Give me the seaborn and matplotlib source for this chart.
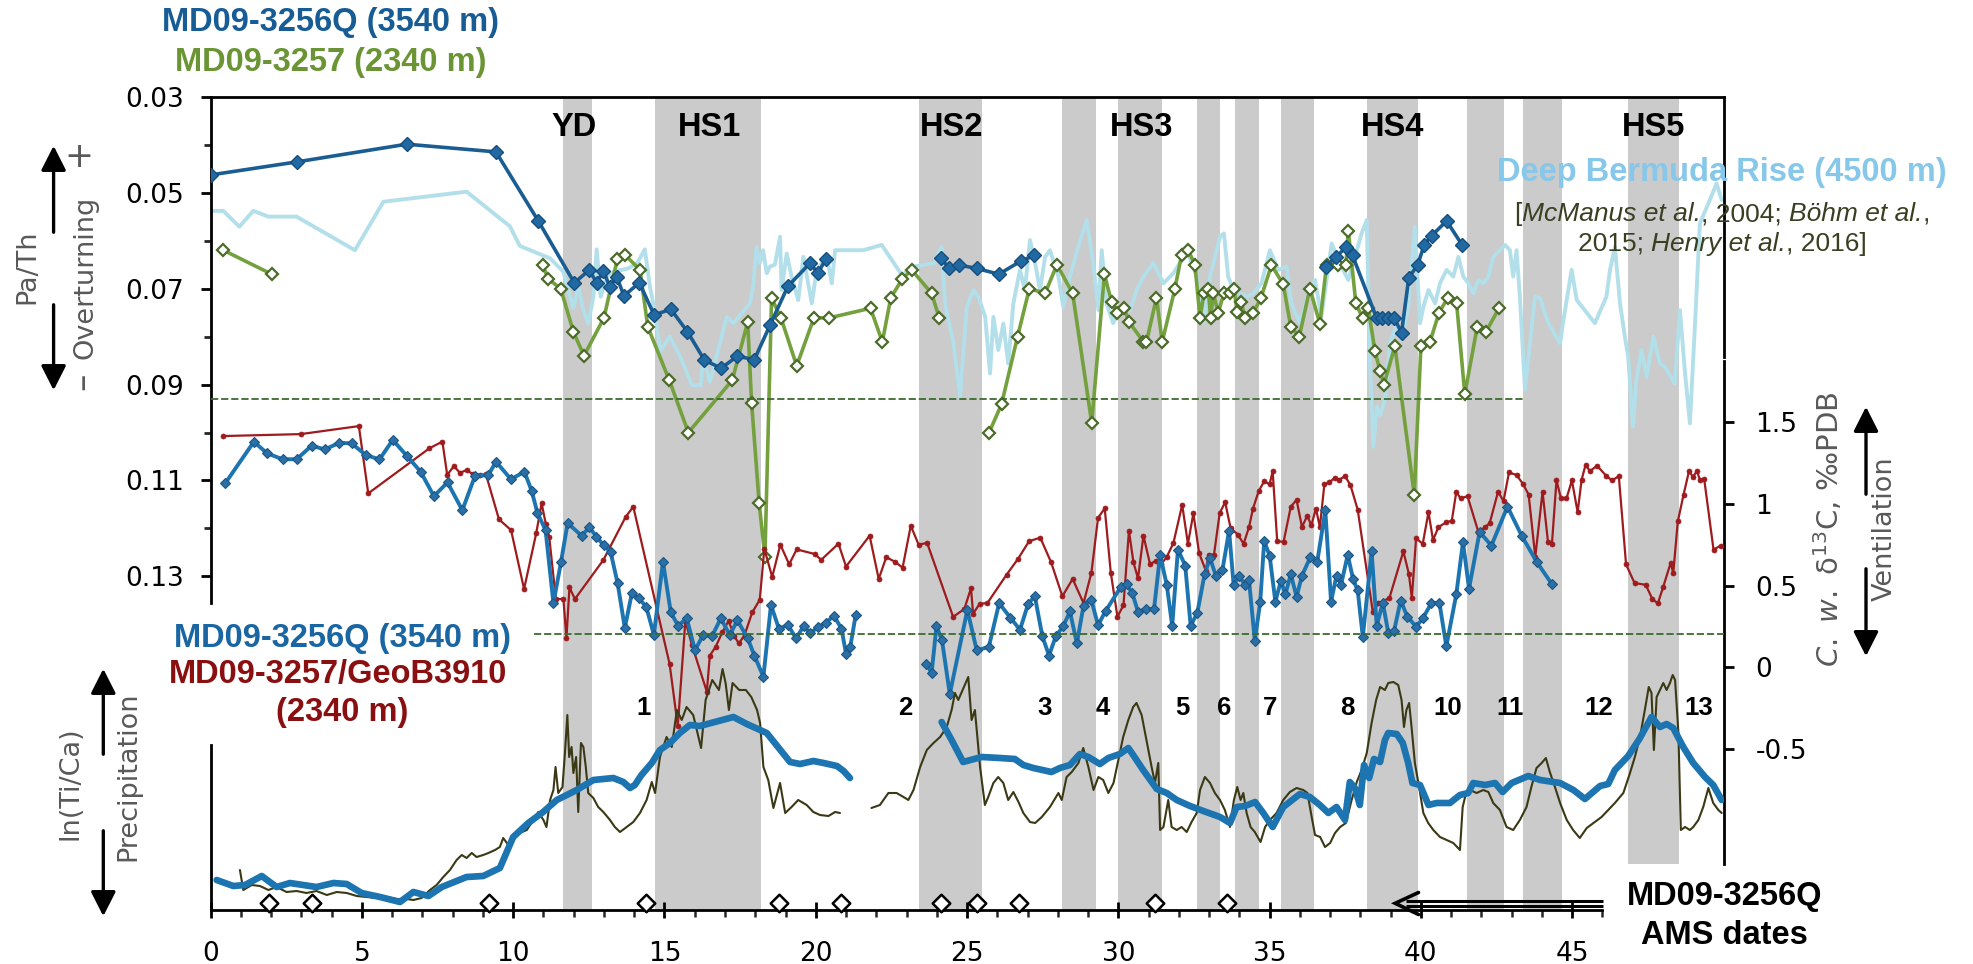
import numpy as np
import pandas as pd
import matplotlib
matplotlib.use("Agg")
import matplotlib.pyplot as plt
import seaborn as sns
from matplotlib.ticker import FixedLocator, FixedFormatter
from matplotlib.offsetbox import TextArea, HPacker, VPacker, AnnotationBbox

sns.set_style("ticks")
plt.rcParams["font.family"] = ["DejaVu Sans"]
plt.rcParams["mathtext.fontset"] = "dejavusans"

NAN = np.nan

# ---------------- data (ages in ka) ----------------
# Pa/Th MD09-3256Q (3540 m)
PA_Q_AGE = [0.01, 2.84, 6.48, 9.43, 10.83, 12.02, 12.52, 12.76, 12.98, 13.20, 13.42, 13.66, 14.17, 14.66, 15.21,
            15.76, 16.32, 16.87, 17.41, 17.97, 18.49, 19.08, 19.81, 20.07, 20.33, NAN,
            24.13, 24.41, 24.74, 25.32, 26.05, 26.77, 27.21, NAN,
            36.86, 37.19, 37.54, 37.74, 38.54, 38.73, 38.92, 39.11, 39.36, 39.60, 39.89, 40.11, 40.35, 40.85, 41.36]
PA_Q_VAL = [0.0463, 0.0436, 0.0399, 0.0415, 0.0559, 0.0688, 0.0661, 0.0689, 0.0663, 0.0697, 0.0675, 0.0715, 0.0688,
            0.0755, 0.0743, 0.0790, 0.0849, 0.0866, 0.0841, 0.0848, 0.0776, 0.0695, 0.0647, 0.0668, 0.0639, NAN,
            0.0636, 0.0658, 0.0651, 0.0658, 0.0670, 0.0643, 0.0631, NAN,
            0.0654, 0.0634, 0.0613, 0.0631, 0.0762, 0.0761, 0.0761, 0.0761, 0.0792, 0.0677, 0.0651, 0.0609, 0.0590,
            0.0559, 0.0609]

# Pa/Th MD09-3257 (2340 m)
PA_G_AGE = [0.42, 2.02, NAN,
            10.97, 11.16, 11.57, 11.99, 12.34, 13.00, 13.44, 13.70, 14.19, 14.45, 15.16, 15.79, 17.24, 17.75, 17.88,
            18.13, 18.32, 18.54, 18.85, 19.37, 19.94, 20.45, 21.81, 22.20, 22.48, 22.86, 23.17, 23.83, 24.08, NAN,
            25.73, 26.14, 26.67, 27.06, 27.58, 27.97, 28.49, 29.12, 29.54, 29.78, 29.97, 30.19, 30.36, 30.83, 30.93,
            31.26, 31.45, 31.87, 32.09, 32.31, 32.53, 32.70, 32.83, 32.97, 33.05, 33.14, 33.30, 33.49, 33.69, 33.82,
            33.93, 34.07, 34.18, 34.46, 34.71, 35.06, 35.45, 35.70, 35.98, 36.33, 36.66, 36.88, 37.27, 37.52, 37.60,
            37.85, 38.07, 38.26, 38.48, 38.65, 38.78, 39.14, 39.78, 40.00, 40.30, 40.60, 40.88, 41.18, 41.45, 41.86,
            42.14, 42.59]
PA_G_VAL = [0.0620, 0.0670, NAN,
            0.0651, 0.0680, 0.0700, 0.0790, 0.0840, 0.0761, 0.0639, 0.0630, 0.0661, 0.0780, 0.0891, 0.1000, 0.0891,
            0.0770, 0.0939, 0.1148, 0.1259, 0.0720, 0.0761, 0.0861, 0.0761, 0.0761, 0.0741, 0.0811, 0.0719, 0.0680,
            0.0661, 0.0710, 0.0761, NAN,
            0.1000, 0.0941, 0.0800, 0.0700, 0.0710, 0.0650, 0.0710, 0.0980, 0.0670, 0.0729, 0.0750, 0.0741, 0.0770,
            0.0811, 0.0811, 0.0719, 0.0811, 0.0700, 0.0630, 0.0620, 0.0650, 0.0761, 0.0710, 0.0700, 0.0761, 0.0710,
            0.0750, 0.0710, 0.0710, 0.0701, 0.0748, 0.0729, 0.0762, 0.0750, 0.0720, 0.0651, 0.0691, 0.0780, 0.0800,
            0.0700, 0.0773, 0.0651, 0.0651, 0.0651, 0.0579, 0.0731, 0.0761, 0.0741, 0.0830, 0.0872, 0.0900, 0.0820,
            0.1130, 0.0820, 0.0811, 0.0750, 0.0720, 0.0731, 0.0920, 0.0780, 0.0791, 0.0740]

# Pa/Th Deep Bermuda Rise (4500 m)
BR_AGE = [0.01, 0.42, 0.95, 1.41, 1.91, 2.84, 4.77, 5.71, 8.46, 9.89, 10.22, 11.22, 11.66, 11.82, 11.99, 12.15,
          12.32, 12.48, 12.65, 12.76, 12.89, 13.09, 13.31, 13.80, 14.10, 14.35, 14.52, 14.65, 14.87, 15.17, 15.47,
          15.91, 16.20, 16.28, 16.50, 16.83, 17.06, 17.28, 17.82, 17.93, 18.04, 18.15, 18.26, 18.38, 18.49, 18.65,
          18.82, 18.87, 19.04, 19.20, 19.42, 19.59, 19.87, 20.03, 20.37, 20.53, 20.64, 21.57, 22.18, 22.85, 23.23,
          23.90, 24.16, 24.27, 24.55, 24.77, 24.99, 25.21, 25.37, 25.60, 25.76, 25.87, 26.03, 26.20, 26.36, 26.53,
          26.75, 26.91, 27.08, 27.25, 27.41, 27.58, 27.74, 28.02, 28.18, 28.40, 28.68, 28.95, 29.17, 29.34, 29.45,
          29.61, 29.83, 30.05, 30.39, 30.61, 30.83, 31.16, 31.49, 31.82, 32.09, 32.31, 32.59, 32.81, 33.03, 33.36,
          33.49, 33.63, 33.80, 34.02, 34.24, 34.46, 34.73, 35.01, 35.28, 35.56, 35.72, 36.00, 36.33, 36.50, 36.71,
          37.05, 37.32, 37.60, 37.82, 38.04, 38.21, 38.32, 38.43, 38.54, 38.65, 38.81, 38.98, 39.20, 39.36, 39.58,
          39.80, 39.97, 40.08, 40.25, 40.47, 40.63, 40.85, 41.07, 41.24, 41.40, 41.57, 41.73, 41.90, 42.06, 42.23,
          42.39, 42.78, 42.94, 43.05, 43.16, 43.27, 43.44, 43.77, 43.94, 44.21, 44.60, 44.71, 44.98, 45.15, 45.75,
          46.13, 46.25, 46.41, 46.58, 46.74, 46.85, 47.01, 47.12, 47.29, 47.46, 47.68, 47.90, 48.06, 48.39, 48.56,
          48.73, 48.89, 49.06, 49.22, 49.55, 49.77, 49.94]
BR_VAL = [0.0538, 0.0538, 0.0571, 0.0538, 0.0550, 0.0550, 0.0620, 0.0519, 0.0498, 0.0570, 0.0611, 0.0637, 0.0665,
          0.0703, 0.0741, 0.0696, 0.0745, 0.0773, 0.0717, 0.0618, 0.0717, 0.0675, 0.0665, 0.0658, 0.0647, 0.0618,
          0.0696, 0.0738, 0.0830, 0.0800, 0.0835, 0.0901, 0.0901, 0.0842, 0.0895, 0.0814, 0.0759, 0.0772, 0.0731,
          0.0696, 0.0613, 0.0647, 0.0620, 0.0668, 0.0654, 0.0650, 0.0592, 0.0703, 0.0627, 0.0675, 0.0724, 0.0634,
          0.0731, 0.0661, 0.0634, 0.0689, 0.0620, 0.0620, 0.0609, 0.0672, 0.0654, 0.0647, 0.0613, 0.0731, 0.0814,
          0.0925, 0.0738, 0.0703, 0.0717, 0.0759, 0.0877, 0.0759, 0.0828, 0.0773, 0.0856, 0.0731, 0.0661, 0.0703,
          0.0599, 0.0647, 0.0703, 0.0634, 0.0620, 0.0675, 0.0738, 0.0675, 0.0613, 0.0557, 0.0647, 0.0745, 0.0620,
          0.0731, 0.0772, 0.0738, 0.0745, 0.0703, 0.0675, 0.0647, 0.0689, 0.0668, 0.0641, 0.0627, 0.0675, 0.0772,
          0.0675, 0.0592, 0.0585, 0.0675, 0.0703, 0.0710, 0.0717, 0.0710, 0.0689, 0.0620, 0.0661, 0.0654, 0.0731,
          0.0772, 0.0703, 0.0682, 0.0759, 0.0606, 0.0647, 0.0682, 0.0634, 0.0585, 0.0557, 0.0863, 0.1030, 0.0946,
          0.0964, 0.0932, 0.0814, 0.0772, 0.0807, 0.0738, 0.0571, 0.0772, 0.0738, 0.0703, 0.0731, 0.0689, 0.0661,
          0.0675, 0.0634, 0.0675, 0.0689, 0.0710, 0.0682, 0.0689, 0.0675, 0.0634, 0.0609, 0.0620, 0.0675, 0.0620,
          0.0717, 0.0911, 0.0717, 0.0720, 0.0772, 0.0814, 0.0766, 0.0661, 0.0724, 0.0772, 0.0717, 0.0661, 0.0613,
          0.0731, 0.0800, 0.0842, 0.0988, 0.0891, 0.0828, 0.0884, 0.0800, 0.0856, 0.0863, 0.0898, 0.0745, 0.0877,
          0.0981, 0.0772, 0.0564, 0.0515, 0.0481, 0.0515]

# C. wuellerstorfi d13C MD09-3256Q (3540 m)
D13_Q_AGE = [0.48, 1.43, 1.87, 2.38, 2.84, 3.34, 3.78, 4.25, 4.66, 5.13, 5.58, 6.02, 6.48, 6.94, 7.38, 7.83, 8.32,
             8.74, 9.18, 9.43, 9.93, 10.37, 10.61, 10.80, 11.07, 11.33, 11.58, 11.80, 12.26, 12.52, 12.75, 12.99,
             13.22, 13.45, 13.69, 13.92, 14.15, 14.40, 14.65, 14.95, 15.21, 15.46, 15.73, 16.01, 16.28, 16.57, 16.86,
             17.16, 17.41, 17.75, 17.97, 18.27, 18.52, 18.78, 19.08, 19.35, 19.60, 19.82, 20.07, 20.33, 20.60, 20.85,
             21.00, 21.14, 21.32, NAN,
             23.65, 23.83, 23.99, 24.17, 24.43, 25.01, 25.32, 25.72, 26.06, 26.43, 26.75, 27.02, 27.24, 27.49, 27.71,
             27.93, 28.18, 28.40, 28.63, 28.85, 29.11, 29.33, 29.58, 30.09, 30.27, 30.46, 30.65, 30.90, 31.18, 31.38,
             31.60, 31.78, 31.97, 32.21, 32.39, 32.61, 32.85, 33.03, 33.22, 33.44, 33.66, 33.81, 33.99, 34.18, 34.32,
             34.51, 34.69, 34.82, 35.00, 35.19, 35.37, 35.52, 35.70, 35.89, 36.07, 36.35, 36.57, 36.84, 37.03, 37.21,
             37.36, 37.58, 37.76, 37.91, 38.08, 38.37, 38.54, 38.74, 38.92, 39.11, 39.33, 39.55, 39.84, 40.06, 40.34,
             40.61, 40.84, 41.17, 41.39, 41.59, 41.94, 42.33, 42.86, 43.34, 43.84, 44.33]
D13_Q_VAL = [1.126, 1.381, 1.310, 1.274, 1.274, 1.357, 1.334, 1.375, 1.371, 1.300, 1.273, 1.392, 1.296, 1.198,
             1.048, 1.132, 0.962, 1.173, 1.177, 1.259, 1.151, 1.198, 1.081, 0.946, 0.840, 0.393, 0.644, 0.883,
             0.806, 0.857, 0.800, 0.748, 0.706, 0.516, 0.241, 0.452, 0.424, 0.369, 0.199, 0.646, 0.336, 0.252,
             0.304, 0.104, 0.199, 0.189, 0.300, 0.199, 0.287, 0.178, 0.072, -0.058, 0.382, 0.237, 0.258, 0.178,
             0.252, 0.209, 0.246, 0.273, 0.315, 0.237, 0.083, 0.125, 0.321, NAN,
             0.020, -0.033, 0.252, 0.167, -0.164, 0.351, 0.104, 0.125, 0.393, 0.304, 0.230, 0.389, 0.435, 0.189,
             0.072, 0.189, 0.252, 0.342, 0.146, 0.378, 0.410, 0.258, 0.345, 0.494, 0.509, 0.455, 0.340, 0.357,
             0.357, 0.688, 0.505, 0.254, 0.721, 0.623, 0.254, 0.334, 0.569, 0.669, 0.562, 0.596, 0.836, 0.505,
             0.562, 0.505, 0.532, 0.163, 0.402, 0.774, 0.683, 0.402, 0.528, 0.448, 0.569, 0.432, 0.562, 0.676,
             0.642, 0.961, 0.402, 0.562, 0.505, 0.688, 0.539, 0.471, 0.186, 0.710, 0.254, 0.396, 0.213, 0.220,
             0.409, 0.311, 0.249, 0.299, 0.391, 0.396, 0.129, 0.448, 0.767, 0.482, 0.829, 0.745, 0.984, 0.802,
             0.642, 0.509]

# C. wuellerstorfi d13C MD09-3257/GeoB3910 (2340 m)
D13_R_AGE = [0.42, 2.98, 4.90, 5.21, 7.23, 7.66, 7.82, 8.04, 8.24, 8.46, 8.68, 8.90, 9.10, 9.53, 9.93, 10.36, 10.76,
             10.94, 11.08, 11.19, 11.41, 11.66, 11.76, 11.86, 12.04, 12.98, 13.72, 13.97, 15.17, 15.44, 15.69, 15.91,
             16.40, 16.50, 16.69, 16.91, 17.12, 17.31, 17.46, 17.65, 17.90, 18.15, 18.30, 18.56, 18.83, 19.12, 19.37,
             19.96, 20.18, 20.75, 21.00, 21.78, 22.08, 22.33, 22.62, 22.87, 23.14, 23.40, 23.68, 24.54, 24.91, 25.13,
             25.20, 25.42, 25.67, 26.31, 26.68, 27.05, 27.42, 27.78, 28.15, 28.49, 28.85, 29.11, 29.33, 29.55, 29.75,
             29.97, 30.17, 30.35, 30.50, 30.65, 30.83, 31.05, 31.23, 31.41, 31.60, 31.82, 32.11, 32.30, 32.48, 32.67,
             32.89, 32.98, 33.16, 33.35, 33.53, 33.71, 33.95, 34.14, 34.32, 34.45, 34.64, 34.82, 35.00, 35.10, 35.25,
             35.46, 35.70, 35.89, 36.07, 36.24, 36.38, 36.53, 36.66, 36.81, 36.97, 37.16, 37.30, 37.49, 37.67, 37.91,
             38.41, 38.59, 38.96, 39.42, 39.60, 39.70, 39.84, 40.06, 40.25, 40.40, 40.58, 40.84, 41.02, 41.17, 41.31,
             41.54, 41.90, 42.12, 42.27, 42.55, 42.73, 42.91, 43.16, 43.38, 43.56, 43.78, 44.02, 44.20, 44.33, 44.48,
             44.63, 44.81, 44.99, 45.18, 45.31, 45.44, 45.59, 45.82, 46.13, 46.32, 46.54, 46.78, 47.06, 47.43, 47.65,
             47.83, 48.01, 48.25, 48.34, 48.49, 48.68, 48.86, 48.99, 49.12, 49.23, 49.36, 49.67, 49.91]
D13_R_VAL = [1.416, 1.428, 1.477, 1.065, 1.341, 1.382, 1.178, 1.232, 1.191, 1.208, 1.181, 1.177, 1.181, 0.906,
             0.840, 0.479, 0.820, 1.004, 0.877, 0.800, 0.418, 0.418, 0.178, 0.489, 0.418, 0.657, 0.922, 0.983,
             0.020, -0.360, 0.284, 0.135, -0.149, 0.072, 0.125, 0.214, 0.284, 0.189, 0.146, 0.199, 0.336, 0.414,
             0.726, 0.553, 0.751, 0.631, 0.722, 0.694, 0.658, 0.757, 0.617, 0.806, 0.541, 0.674, 0.646, 0.610,
             0.867, 0.751, 0.762, 0.309, 0.357, 0.484, 0.329, 0.389, 0.393, 0.568, 0.663, 0.772, 0.794, 0.642,
             0.435, 0.541, 0.393, 0.579, 0.916, 0.973, 0.580, 0.310, 0.380, 0.836, 0.642, 0.545, 0.806, 0.630,
             0.653, 0.630, 0.676, 0.761, 0.995, 0.756, 0.943, 0.699, 0.592, 0.689, 0.688, 0.945, 1.011, 0.852,
             0.813, 0.756, 0.859, 0.972, 1.080, 1.139, 1.121, 1.201, 0.774, 0.767, 0.984, 1.025, 0.859, 0.927,
             0.870, 0.972, 0.859, 1.121, 1.132, 1.162, 1.148, 1.171, 1.116, 0.966, 0.340, 0.391, 0.425, 0.710,
             0.573, 0.425, 0.790, 0.756, 0.950, 0.779, 0.859, 0.888, 0.897, 1.075, 1.034, 1.048, 0.828, 0.859,
             0.881, 1.075, 1.018, 1.193, 1.178, 1.121, 1.057, 0.676, 1.075, 0.767, 0.756, 1.144, 1.034, 1.034,
             1.144, 0.950, 1.148, 1.239, 1.201, 1.235, 1.171, 1.144, 1.171, 0.630, 0.516, 0.505, 0.418, 0.391,
             0.494, 0.637, 0.578, 0.893, 1.057, 1.201, 1.167, 1.201, 1.144, 1.155, 0.721, 0.745]

# ln(Ti/Ca) GeoB3910 (relative units)
TICA_AGE = [0.97, 1.08, 1.36, 1.63, 1.91, 2.18, 2.51, 2.84, 3.17, 3.50, 3.84, 4.17, 4.50, 4.83, 5.16, 5.49, 5.82,
            6.15, 6.48, 6.70, 6.97, 7.25, 7.47, 7.69, 7.91, 8.13, 8.30, 8.46, 8.63, 8.79, 9.01, 9.18, 9.40, 9.56,
            9.67, 9.84, 10.00, 10.22, 10.45, 10.67, 10.83, 11.00, 11.10, 11.22, 11.33, 11.40, 11.49, 11.63, 11.71,
            11.79, 11.85, 11.93, 11.99, 12.08, 12.15, 12.24, 12.32, 12.40, 12.48, 12.65, 12.81, 12.98, 13.20, 13.36,
            13.53, 13.75, 13.97, 14.19, 14.41, 14.58, 14.69, 14.85, 15.07, 15.24, 15.41, 15.57, 15.73, 15.95, 16.21,
            16.36, 16.58, 16.80, 16.92, 17.02, 17.13, 17.25, 17.47, 17.69, 17.87, 18.06, 18.16, 18.27, 18.43, 18.60,
            18.82, 18.99, 19.20, 19.42, 19.70, 19.92, 20.14, 20.42, 20.64, 20.80, NAN,
            21.84, 22.12, 22.40, 22.67, 22.90, 23.06, 23.23, 23.45, 23.67, 23.89, 24.11, 24.33, 24.49, 24.60, 24.71,
            25.04, 25.15, 25.26, 25.43, 25.59, 25.70, 25.87, 26.03, 26.20, 26.36, 26.53, 26.70, 26.86, 27.08, 27.25,
            27.47, 27.74, 28.02, 28.13, 28.29, 28.46, 28.68, 28.84, 29.01, 29.18, 29.34, 29.50, 29.67, 29.84, 30.00,
            30.16, 30.33, 30.49, 30.60, 30.77, 30.93, 31.10, 31.21, 31.32, 31.38, 31.49, 31.65, 31.76, 31.93, 32.09,
            32.26, 32.42, 32.59, 32.70, 32.86, 33.03, 33.19, 33.36, 33.52, 33.69, 33.82, 33.93, 34.04, 34.13, 34.24,
            34.37, 34.51, 34.70, 34.85, 35.01, 35.23, 35.45, 35.67, 35.89, 36.11, 36.25, 36.39, 36.50, 36.67, 36.83,
            37.00, 37.16, 37.33, 37.52, 37.71, 37.88, 38.04, 38.21, 38.37, 38.52, 38.65, 38.81, 38.92, 39.09, 39.25,
            39.36, 39.44, 39.52, 39.61, 39.69, 39.80, 39.94, 40.08, 40.24, 40.41, 40.63, 40.85, 41.07, 41.29, 41.38,
            41.46, 41.62, 41.84, 42.06, 42.23, 42.39, 42.61, 42.83, 43.05, 43.27, 43.49, 43.65, 43.82, 43.99, 44.13,
            44.26, 44.43, 44.60, 44.82, 45.03, 45.25, 45.48, 45.70, 45.97, 46.19, 46.41, 46.69, 46.91, 47.07, 47.24,
            47.40, 47.53, 47.62, 47.70, 47.79, 47.90, 48.01, 48.12, 48.23, 48.32, 48.40, 48.51, 48.59, 48.73, 48.89,
            49.00, 49.17, 49.33, 49.50, 49.66, 49.83, 49.94]
TICA_VAL = [0.40, 0.20, 0.25, 0.24, 0.20, 0.23, 0.18, 0.19, 0.17, 0.19, 0.15, 0.18, 0.17, 0.14, 0.13, 0.12, 0.13,
            0.11, 0.11, 0.10, 0.12, 0.20, 0.25, 0.33, 0.40, 0.50, 0.55, 0.52, 0.57, 0.53, 0.55, 0.57, 0.60, 0.63,
            0.72, 0.65, 0.70, 0.77, 0.80, 0.90, 0.98, 0.90, 0.83, 1.10, 1.20, 1.43, 1.17, 1.23, 1.57, 1.95, 1.53,
            1.63, 1.37, 1.53, 0.98, 1.67, 1.63, 1.43, 1.17, 1.12, 1.03, 0.98, 0.90, 0.83, 0.78, 0.83, 0.88, 0.97,
            1.10, 1.28, 1.17, 1.53, 1.73, 1.63, 2.00, 1.90, 2.03, 1.95, 1.62, 2.10, 2.30, 2.20, 2.41, 2.27, 2.00,
            2.27, 2.20, 2.20, 2.13, 2.00, 1.87, 1.43, 1.30, 1.02, 1.27, 0.97, 1.03, 1.10, 1.05, 0.98, 0.95, 0.94,
            0.98, 0.97, NAN,
            1.02, 1.05, 1.17, 1.17, 1.13, 1.10, 1.20, 1.43, 1.60, 1.67, 1.73, 1.83, 2.00, 2.17, 2.10, 2.33, 1.90,
            2.00, 1.43, 1.05, 1.13, 1.27, 1.33, 1.27, 1.10, 1.18, 1.08, 0.97, 0.88, 0.87, 0.93, 1.03, 1.17, 1.10,
            1.33, 1.38, 1.47, 1.62, 1.43, 1.20, 1.33, 1.30, 1.17, 1.27, 1.50, 1.73, 1.90, 2.03, 2.07, 1.95, 1.70,
            1.43, 1.27, 1.47, 0.80, 0.83, 1.10, 0.83, 0.80, 0.83, 0.78, 0.88, 0.97, 1.20, 1.33, 1.27, 1.17, 1.10,
            1.00, 0.83, 1.10, 1.23, 1.10, 1.17, 0.97, 0.83, 0.78, 0.68, 0.83, 0.90, 0.97, 1.10, 1.18, 1.22, 1.20,
            1.17, 0.93, 0.75, 0.73, 0.63, 0.67, 0.77, 0.83, 0.87, 1.10, 1.28, 1.40, 1.57, 1.87, 2.10, 2.23, 2.20,
            2.27, 2.28, 2.25, 2.10, 1.83, 2.00, 2.07, 1.83, 1.47, 1.23, 0.97, 0.87, 0.80, 0.73, 0.70, 0.67, 0.60,
            1.03, 1.13, 1.20, 1.17, 1.20, 1.18, 1.07, 1.00, 0.83, 0.80, 0.90, 1.03, 1.23, 1.42, 1.47, 1.52, 1.38,
            1.23, 1.07, 0.90, 0.80, 0.72, 0.82, 0.87, 0.93, 1.00, 1.07, 1.17, 1.37, 1.53, 1.73, 2.00, 2.23, 2.17,
            1.60, 2.13, 2.20, 2.27, 2.20, 2.27, 2.35, 2.30, 1.77, 0.80, 0.83, 0.80, 0.83, 0.90, 1.03, 1.22, 1.07,
            1.00, 0.97]

# ln(Ti/Ca) MD09-3256Q, smoothed (relative units)
TISM_AGE = [0.20, 0.75, 1.14, 1.69, 2.18, 2.62, 3.50, 4.06, 4.50, 4.99, 5.60, 6.26, 6.70, 7.20, 7.64, 8.46, 9.01,
            9.56, 10.00, 10.50, 10.99, 11.44, 12.10, 12.65, 13.31, 13.64, 13.86, 14.02, 14.24, 14.58, 14.85, 15.18,
            15.51, 15.84, 16.17, 17.28, 17.72, 18.38, 19.15, 19.48, 19.92, 20.26, 20.70, 20.92, 21.13, NAN,
            24.16, 24.49, 24.87, 25.48, 26.09, 26.58, 26.86, 27.19, 27.79, 28.07, 28.40, 28.73, 29.01, 29.39, 29.67,
            30.05, 30.33, 30.49, 30.82, 31.27, 31.60, 31.93, 32.37, 32.81, 33.36, 33.69, 33.91, 34.19, 34.52, 34.79,
            35.10, 35.45, 36.00, 36.33, 36.66, 36.94, 37.21, 37.49, 37.65, 37.82, 37.98, 38.12, 38.29, 38.45, 38.65,
            38.81, 38.92, 39.20, 39.40, 39.58, 39.72, 39.97, 40.25, 40.52, 40.96, 41.29, 41.56, 41.73, 42.12, 42.45,
            42.70, 43.00, 43.55, 43.94, 44.60, 45.04, 45.42, 45.92, 46.19, 46.41, 46.85, 47.22, 47.62, 47.90, 48.12,
            48.34, 48.67, 49.00, 49.39, 49.66, 49.94]
TISM_VAL = [0.30, 0.24, 0.25, 0.34, 0.23, 0.27, 0.23, 0.27, 0.26, 0.17, 0.13, 0.08, 0.18, 0.14, 0.23, 0.33, 0.34,
            0.42, 0.73, 0.87, 0.98, 1.10, 1.20, 1.30, 1.32, 1.28, 1.22, 1.25, 1.35, 1.47, 1.60, 1.67, 1.77, 1.85,
            1.84, 1.93, 1.86, 1.77, 1.48, 1.46, 1.49, 1.47, 1.44, 1.39, 1.32, NAN,
            1.88, 1.70, 1.48, 1.53, 1.52, 1.51, 1.45, 1.42, 1.38, 1.42, 1.45, 1.56, 1.53, 1.46, 1.52, 1.56, 1.62,
            1.55, 1.40, 1.21, 1.17, 1.10, 1.04, 0.99, 0.93, 0.87, 1.03, 1.04, 1.08, 0.97, 0.83, 1.03, 1.16, 1.13,
            1.05, 0.97, 1.03, 0.90, 1.28, 1.22, 1.05, 1.45, 1.32, 1.51, 1.48, 1.70, 1.77, 1.76, 1.67, 1.47, 1.27,
            1.25, 1.05, 1.07, 1.07, 1.15, 1.17, 1.27, 1.25, 1.27, 1.18, 1.27, 1.34, 1.30, 1.27, 1.20, 1.11, 1.24,
            1.26, 1.40, 1.54, 1.71, 1.93, 1.83, 1.86, 1.82, 1.63, 1.47, 1.33, 1.25, 1.10]

# MD09-3256Q AMS radiocarbon dates (ka)
AMS_AGE = [1.93, 3.36, 9.20, 14.40, 18.80, 20.85, 24.14, 25.32, 26.72, 31.20, 33.60]

# Heinrich stadials / grey bands (ka)
BAND_START = [11.63, 14.69, 23.41, 28.13, 29.99, 32.60, 33.85, 35.38, 38.23, 41.52, 43.38, 46.84]
BAND_END = [12.62, 18.20, 25.50, 29.26, 31.43, 33.37, 34.66, 36.45, 39.92, 42.74, 44.65, 48.53]
HS_LABELS = ["YD", "HS1", "HS2", "HS3", "HS4", "HS5"]
HS_AGE = [12.03, 16.50, 24.50, 30.78, 39.05, 47.70]
EVENT_LABELS = ["1", "2", "3", "4", "5", "6", "7", "8", "10", "11", "12", "13"]
EVENT_AGE = [14.30, 22.95, 27.55, 29.50, 32.10, 33.48, 35.00, 37.58, 40.88, 42.94, 45.88, 49.18]

PA_TICKS = [0.03, 0.05, 0.07, 0.09, 0.11, 0.13]
D13_TICKS = [-0.5, 0.0, 0.5, 1.0, 1.5]
D13_TICKLABELS = ["-0.5", "0", "0.5", "1", "1.5"]
AGE_TICKS = [0, 5, 10, 15, 20, 25, 30, 35, 40, 45]

PA_THRESHOLD = 0.0931
D13_THRESHOLD = 0.206

# ---------------- styling ----------------
W, H = 1973, 964
X0, X50 = 210.6, 1723.5
BOLD = ["Liberation Sans", "DejaVu Sans"]
GRAY = "#595959"
BAND = "#cacbca"


def fx(px):
    return px / W


def fy(py):
    return 1 - py / H


def seg_frame(age, val):
    age = np.asarray(age, float)
    val = np.asarray(val, float)
    seg = np.cumsum(np.isnan(val))
    df = pd.DataFrame({"age": age, "val": val, "seg": seg})
    return df.dropna()


fig = plt.figure(figsize=(W / 100, H / 100), dpi=100)
fig.patch.set_facecolor("white")

ax_bg = fig.add_axes([fx(X0), fy(910), (X50 - X0) / W, (910 - 96.7) / H])
ax_pa = fig.add_axes([fx(X0), fy(602.8), (X50 - X0) / W, (602.8 - 96.7) / H])
ax_d13 = fig.add_axes([fx(X0), fy(863.5), (X50 - X0) / W, (863.5 - 360.7) / H])
ax_ti = fig.add_axes([fx(X0), fy(910), (X50 - X0) / W, (910 - 600) / H])

# background bands
ax_bg.set_xlim(0, 50)
ax_bg.set_ylim(0, 1)
ax_bg.axis("off")
hs5_bottom = (910 - 864) / (910 - 96.7)
for s, e in zip(BAND_START, BAND_END):
    ymin = hs5_bottom if s > 46 else 0
    ax_bg.axvspan(s, e, ymin=ymin, ymax=1, color=BAND, lw=0, zorder=0)
for lab, a in zip(HS_LABELS, HS_AGE):
    ax_bg.text(a, (910 - 128) / (910 - 96.7), lab, ha="center", va="center", fontsize=23.5,
               fontweight="bold", family=BOLD, color="black")
for lab, a in zip(EVENT_LABELS, EVENT_AGE):
    ax_bg.text(a, (910 - 708) / (910 - 96.7), lab, ha="center", va="center", fontsize=18.5,
               fontweight="bold", family=BOLD, color="black")

for ax in (ax_pa, ax_d13, ax_ti):
    ax.patch.set_alpha(0)
    ax.set_xlim(0, 50)

# ---------------- Pa/Th panel ----------------
ax_pa.set_ylim(0.1355, 0.03)
df = seg_frame(BR_AGE, BR_VAL)
sns.lineplot(data=df, x="age", y="val", units="seg", estimator=None, ax=ax_pa, color="#b2dfe9", lw=2.8,
             legend=False, zorder=2)
df = seg_frame(PA_G_AGE, PA_G_VAL)
sns.lineplot(data=df, x="age", y="val", units="seg", estimator=None, ax=ax_pa, color="#74a03e", lw=2.6,
             marker="D", markersize=6.5, markerfacecolor="white", markeredgecolor="#4c6b2a",
             markeredgewidth=1.6, legend=False, zorder=3)
df = seg_frame(PA_Q_AGE, PA_Q_VAL)
sns.lineplot(data=df, x="age", y="val", units="seg", estimator=None, ax=ax_pa, color="#1a5d92", lw=2.6,
             marker="D", markersize=7, markerfacecolor="#2069a3", markeredgecolor="#164d7a",
             markeredgewidth=1.0, legend=False, zorder=4)
ax_pa.hlines(PA_THRESHOLD, 0, 43.4, colors="#3b6b2e", lw=1.3, linestyles=(0, (4, 1.6)), zorder=5)

ax_pa.set_xlabel("")
ax_pa.set_ylabel("")
for side in ("left", "top", "right"):
    ax_pa.spines[side].set_visible(True)
    ax_pa.spines[side].set_linewidth(2.0)
    ax_pa.spines[side].set_color("black")
ax_pa.spines["bottom"].set_visible(False)
ax_pa.spines["right"].set_bounds(0.03, 0.0842)
ax_pa.yaxis.set_major_locator(FixedLocator(PA_TICKS))
ax_pa.yaxis.set_major_formatter(FixedFormatter([f"{t:.2f}" for t in PA_TICKS]))
ax_pa.yaxis.set_minor_locator(FixedLocator([0.04, 0.06, 0.08, 0.10, 0.12]))
ax_pa.tick_params(axis="y", which="major", left=True, right=False, direction="out", length=7, width=2,
                  labelsize=19, pad=12, colors="black")
ax_pa.tick_params(axis="y", which="minor", left=True, right=False, direction="out", length=5, width=2)
ax_pa.tick_params(axis="x", which="both", bottom=False, top=False, labelbottom=False)

# ---------------- d13C panel ----------------
ax_d13.set_ylim(-1.2015, 1.8775)
df = seg_frame(D13_R_AGE, D13_R_VAL)
sns.lineplot(data=df, x="age", y="val", units="seg", estimator=None, ax=ax_d13, color="#9e1b1e", lw=1.6,
             marker="o", markersize=3.6, markerfacecolor="#9e1b1e", markeredgecolor="#9e1b1e",
             markeredgewidth=0.5, legend=False, zorder=3)
df = seg_frame(D13_Q_AGE, D13_Q_VAL)
sns.lineplot(data=df, x="age", y="val", units="seg", estimator=None, ax=ax_d13, color="#1c74b0", lw=2.8,
             marker="D", markersize=5.2, markerfacecolor="#2a6fa5", markeredgecolor="#1a5585",
             markeredgewidth=0.8, legend=False, zorder=4)
ax_d13.hlines(D13_THRESHOLD, 10.7, 50, colors="#3b6b2e", lw=1.3, linestyles=(0, (4, 1.6)), zorder=5)
ax_d13.set_xlabel("")
ax_d13.set_ylabel("")
for side in ("left", "top", "bottom"):
    ax_d13.spines[side].set_visible(False)
ax_d13.spines["right"].set_visible(True)
ax_d13.spines["right"].set_linewidth(2.0)
ax_d13.spines["right"].set_color("black")
ax_d13.yaxis.tick_right()
ax_d13.yaxis.set_major_locator(FixedLocator(D13_TICKS))
ax_d13.yaxis.set_major_formatter(FixedFormatter(D13_TICKLABELS))
ax_d13.tick_params(axis="y", which="major", right=True, left=False, direction="out", length=7, width=2,
                   labelsize=19, pad=16, colors="black")
ax_d13.tick_params(axis="x", which="both", bottom=False, top=False, labelbottom=False)

# ---------------- Ti/Ca panel ----------------
ax_ti.set_ylim(0, 3.1)
df = seg_frame(TICA_AGE, TICA_VAL)
sns.lineplot(data=df, x="age", y="val", units="seg", estimator=None, ax=ax_ti, color="#3b3915", lw=1.5,
             legend=False, zorder=2)
df = seg_frame(TISM_AGE, TISM_VAL)
sns.lineplot(data=df, x="age", y="val", units="seg", estimator=None, ax=ax_ti, color="#1c74b0", lw=4.8,
             legend=False, zorder=3)
AMS_LEVEL = 0.07
ams = pd.DataFrame({"age": AMS_AGE, "lvl": [AMS_LEVEL] * len(AMS_AGE)})
sns.scatterplot(data=ams, x="age", y="lvl", ax=ax_ti, marker="D", s=80, facecolor="white",
                edgecolor="black", linewidth=1.8, legend=False, zorder=6, clip_on=False)
ax_ti.set_xlabel("")
ax_ti.set_ylabel("")
ax_ti.spines["top"].set_visible(False)
ax_ti.spines["right"].set_visible(False)
for side in ("left", "bottom"):
    ax_ti.spines[side].set_visible(True)
    ax_ti.spines[side].set_linewidth(2.0)
    ax_ti.spines[side].set_color("black")
ax_ti.spines["left"].set_bounds(0, 1.65)
ax_ti.spines["bottom"].set_bounds(0, 46)
ax_ti.yaxis.set_major_locator(FixedLocator([]))
ax_ti.tick_params(axis="y", which="both", left=False, right=False, labelleft=False)
ax_ti.xaxis.set_major_locator(FixedLocator(AGE_TICKS))
ax_ti.xaxis.set_major_formatter(FixedFormatter([str(t) for t in AGE_TICKS]))
ax_ti.xaxis.set_minor_locator(FixedLocator([i for i in range(0, 47) if i % 5]))
ax_ti.tick_params(axis="x", which="major", bottom=True, direction="inout", length=12, width=2,
                  labelsize=19, pad=16, colors="black")
ax_ti.tick_params(axis="x", which="minor", bottom=True, direction="out", length=5, width=1.8)

# AMS arrow (double shaft, open head)
for lvl in (0.095, 0.04):
    ax_ti.plot([39.5, 46.02], [lvl, lvl], color="black", lw=2.2, clip_on=False, zorder=7,
               solid_capstyle="butt")
ax_ti.plot([39.92, 39.15, 39.92], [0.175, 0.067, -0.045], color="black", lw=2.6, clip_on=False, zorder=7,
           solid_joinstyle="miter")

# ---------------- texts ----------------
def ftext(x, y, s, **kw):
    fig.text(fx(x), fy(y), s, ha="center", va="center", **kw)


ftext(330, 23, "MD09-3256Q (3540 m)", color="#175c95", fontsize=23.5, fontweight="bold", family=BOLD)
ftext(331, 62, "MD09-3257 (2340 m)", color="#6b9535", fontsize=23.5, fontweight="bold", family=BOLD)
ftext(343, 638, "MD09-3256Q (3540 m)", color="#1a66a3", fontsize=23.5, fontweight="bold", family=BOLD)
ftext(338, 675, "MD09-3257/GeoB3910", color="#8a0f10", fontsize=23.5, fontweight="bold", family=BOLD)
ftext(342, 713, "(2340 m)", color="#8a0f10", fontsize=23.5, fontweight="bold", family=BOLD)
ftext(1722, 172, "Deep Bermuda Rise (4500 m)", color="#86c7ea", fontsize=23.5, fontweight="bold", family=BOLD)
ftext(1725, 896, "MD09-3256Q", color="black", fontsize=23.5, fontweight="bold", family=BOLD)
ftext(1724, 936, "AMS dates", color="black", fontsize=23.5, fontweight="bold", family=BOLD)

CIT = "#3b3f22"
reg = dict(fontsize=19, color=CIT, family=BOLD)
ita = dict(fontsize=19, color=CIT, family=BOLD, style="italic")
line1 = HPacker(children=[TextArea("[", textprops=reg), TextArea("McManus et al.", textprops=ita),
                          TextArea(", 2004; ", textprops=reg), TextArea("Böhm et al.", textprops=ita),
                          TextArea(",", textprops=reg)], align="baseline", pad=0, sep=0)
line2 = HPacker(children=[TextArea("2015; ", textprops=reg), TextArea("Henry et al.", textprops=ita),
                          TextArea(", 2016]", textprops=reg)], align="baseline", pad=0, sep=0)
cit = VPacker(children=[line1, line2], align="center", pad=0, sep=4)
fig.add_artist(AnnotationBbox(cit, (fx(1722), fy(229)), xycoords="figure fraction", frameon=False,
                              box_alignment=(0.5, 0.5)))

lab = dict(color=GRAY, fontsize=19.5, family="DejaVu Sans", rotation=90)
ftext(27, 267, "Pa/Th", **lab)
ftext(85.5, 277, "Overturning", **lab)
ftext(79, 157, "+", color=GRAY, fontsize=25, family="DejaVu Sans")
ftext(83, 381, "\u2013", color=GRAY, fontsize=25, family="DejaVu Sans", rotation=90)
ftext(71, 783, "ln(Ti/Ca)", **lab)
ftext(128, 776, "Precipitation", **lab)
ftext(1829, 529, r"$\it{C.\ w.}$ δ$^{13}$C, ‰PDB", color=GRAY, fontsize=21, family="DejaVu Sans", rotation=90)
ftext(1885, 529, "Ventilation", **lab)


def farrow(x, y0, y1):
    fig.add_artist(matplotlib.patches.FancyArrowPatch(
        (fx(x), fy(y0)), (fx(x), fy(y1)), transform=fig.transFigure,
        arrowstyle="-|>,head_length=0.75,head_width=0.38", mutation_scale=20, lw=2.4, color="black"))


farrow(53.6, 235, 143)
farrow(53.6, 302, 393)
farrow(103.3, 757, 666)
farrow(103.3, 828, 919)
farrow(1866, 497, 404)
farrow(1866, 566, 659)

fig.savefig("out.png", dpi=100)
